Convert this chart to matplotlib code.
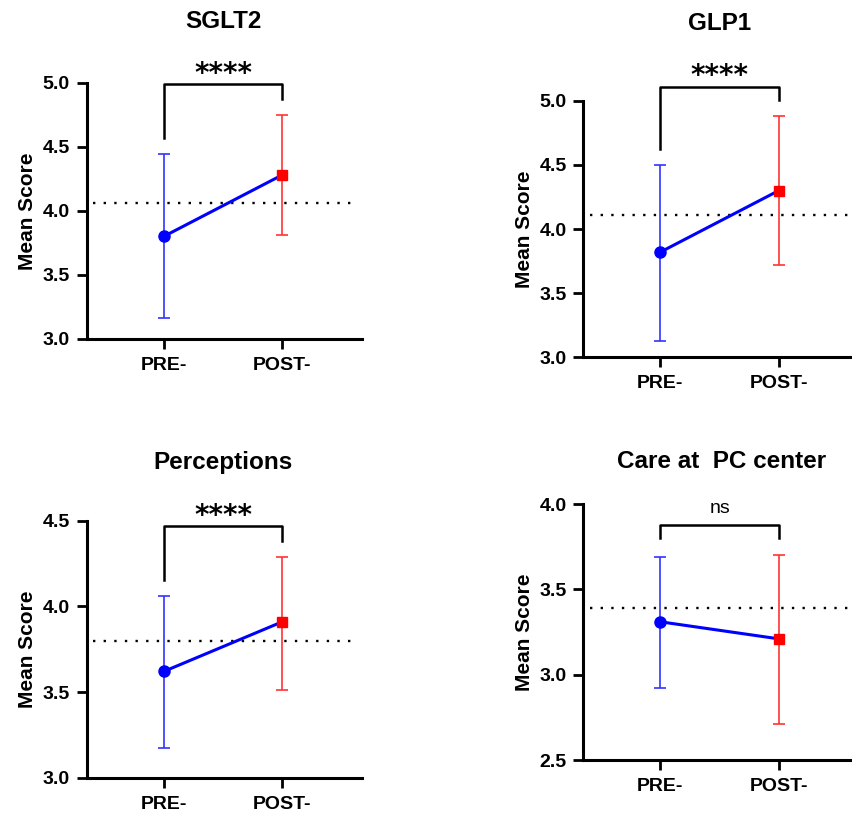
import numpy as np
import matplotlib
matplotlib.use("Agg")
import matplotlib.pyplot as plt

plt.rcParams['font.family'] = ['Liberation Sans', 'DejaVu Sans']

# panel data
titles = ["SGLT2", "GLP1", "Perceptions", "Care at  PC center"]
groups = ["PRE-", "POST-"]
pre_mean = [3.80, 3.82, 3.62, 3.31]
pre_lo = [3.16, 3.13, 3.175, 2.92]
pre_hi = [4.44, 4.50, 4.06, 3.69]
post_mean = [4.28, 4.30, 3.91, 3.21]
post_lo = [3.81, 3.72, 3.51, 2.71]
post_hi = [4.75, 4.88, 4.29, 3.70]
ref_line = [4.06, 4.11, 3.80, 3.39]
signif = ["****", "****", "****", "ns"]
ylims = [(3.0, 5.0), (3.0, 5.0), (3.0, 4.5), (2.5, 4.0)]
yticks = [[3.0, 3.5, 4.0, 4.5, 5.0], [3.0, 3.5, 4.0, 4.5, 5.0],
          [3.0, 3.5, 4.0, 4.5], [2.5, 3.0, 3.5, 4.0]]
# bracket: top, left leg end, right leg end
br_top = [4.99, 5.11, 4.47, 3.877]
br_left = [4.57, 4.62, 4.154, 3.80]
br_right = [4.87, 5.005, 4.38, 3.80]

# axes boxes in figure fractions [left, bottom, width, height]
boxes = [[0.1016, 0.5846, 0.3224, 0.3141],
         [0.6838, 0.5621, 0.3224, 0.3145],
         [0.1016, 0.0469, 0.3224, 0.3150],
         [0.6838, 0.0686, 0.3224, 0.3137]]
# title centres in pixels from top-left
title_xy = [(223, 22), (720, 23), (223, 463), (722, 462)]

W, H = 853, 816
fig = plt.figure(figsize=(W / 100, H / 100), dpi=100)

for i in range(4):
    ax = fig.add_axes(boxes[i])
    x = np.arange(2)
    ax.plot(x, [pre_mean[i], post_mean[i]], color="#0000ff", lw=2.2, zorder=3)
    ax.errorbar([0], [pre_mean[i]],
                yerr=[[pre_mean[i] - pre_lo[i]], [pre_hi[i] - pre_mean[i]]],
                fmt="o", color="#0000ff", ecolor="#3333ff", elinewidth=1.2,
                capsize=4.5, capthick=1.2, markersize=8, zorder=4)
    ax.errorbar([1], [post_mean[i]],
                yerr=[[post_mean[i] - post_lo[i]], [post_hi[i] - post_mean[i]]],
                fmt="s", color="#ff0000", ecolor="#ff3333", elinewidth=1.2,
                capsize=4.5, capthick=1.2, markersize=7.5, zorder=4)
    ax.axhline(ref_line[i], xmin=0.023, xmax=0.983, color="black",
               ls=(0, (1, 3.5)), lw=1.7, zorder=2)

    # significance bracket
    ax.plot([0, 0, 1, 1], [br_left[i], br_top[i], br_top[i], br_right[i]],
            color="black", lw=1.8, clip_on=False, zorder=5)
    yr = ylims[i][1] - ylims[i][0]
    if signif[i] == "ns":
        ax.text(0.5, br_top[i] + 0.03 * yr, signif[i], ha="center", va="bottom",
                fontsize=14, clip_on=False)
    else:
        ax.text(0.5, br_top[i] - 0.015 * yr, signif[i], ha="center", va="bottom",
                fontsize=20, fontweight="bold", family="DejaVu Sans",
                clip_on=False)

    ax.set_xlim(-0.65, 1.67)
    ax.set_ylim(*ylims[i])
    ax.set_xticks(x)
    ax.set_xticklabels(groups)
    ax.set_yticks(yticks[i])
    ax.set_yticklabels(["%.1f" % v for v in yticks[i]])
    for lab in ax.get_xticklabels() + ax.get_yticklabels():
        lab.set_fontweight("bold")
        lab.set_fontsize(14)
    ax.tick_params(axis="both", length=7, width=2, direction="out", pad=5)
    ax.tick_params(axis="x", pad=6)
    for s in ["top", "right"]:
        ax.spines[s].set_visible(False)
    for s in ["left", "bottom"]:
        ax.spines[s].set_linewidth(2.2)
    ax.set_ylabel("Mean Score", fontsize=15, fontweight="bold", labelpad=4)

    tx, ty = title_xy[i]
    fig.text(tx / W, 1 - ty / H, titles[i], ha="center", va="center",
             fontsize=17.5, fontweight="bold")

fig.savefig("out.png", dpi=100)
